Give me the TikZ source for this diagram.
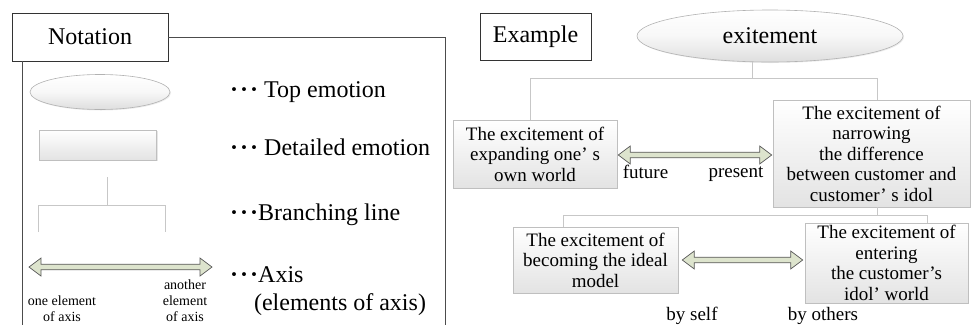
\documentclass[tikz,border=0pt]{standalone}
\usepackage{fontspec}
\setmainfont{Liberation Serif}
\usetikzlibrary{shadows,calc}
\newcommand\ddd{{\bfseries\char"00B7\relax\kern2pt\char"00B7\relax\kern2pt\char"00B7\relax}}
\newcommand\axisarrow[2]{%
  \filldraw[axisstyle] (#1) -- ($(#1)+(12,-9)$) -- ($(#1)+(12,-2.8)$) -- ($(#2)+(-12,-2.8)$)
   -- ($(#2)+(-12,-9)$) -- (#2) -- ($(#2)+(-12,9)$) -- ($(#2)+(-12,2.8)$)
   -- ($(#1)+(12,2.8)$) -- ($(#1)+(12,9)$) -- cycle;}
\tikzset{
  x=1pt,y=-1pt,
  big/.style={font=\fontsize{24}{26}\selectfont},
  mid/.style={font=\fontsize{19}{20.5}\selectfont},
  small/.style={font=\fontsize{14}{16}\selectfont, align=center},
  titlebox/.style={draw=black!80, fill=white, line width=0.8pt, inner sep=0pt, big},
  frame/.style={draw=black!70, line width=0.8pt},
  emobox/.style={draw=black!25, top color=white, bottom color=black!11, line width=0.6pt,
     drop shadow={shadow xshift=1.2pt, shadow yshift=-1.2pt, opacity=0.2},
     inner sep=1pt, align=center, mid},
  topell/.style={ellipse, draw=black!30, top color=white, bottom color=black!13,
     middle color=black!3, line width=0.6pt, inner sep=0pt,
     drop shadow={shadow xshift=1pt, shadow yshift=-1pt, opacity=0.15}},
  branch/.style={draw=black!22, line width=1pt},
  axisstyle/.style={draw=black!65, fill={rgb,255:red,221;green,228;blue,205}, line width=0.7pt, line join=miter},
  lbl/.style={anchor=west, big, inner sep=0pt},
}
\usetikzlibrary{shapes.geometric}
\begin{document}
\begin{tikzpicture}
\useasboundingbox (0,0) rectangle (971,325);
% ---------- Notation panel ----------
\node[titlebox, minimum width=156, minimum height=48] (nota) at (90,37) {Notation};
\coordinate (frTR) at (445,37);
\coordinate (frBR) at (445,325);
\coordinate (frBL) at (22,325);
\draw[frame] (nota.east |- frTR) -- (frTR) -- (frBR);
\draw[frame] (nota.south -| frBL) -- (frBL);

\node[topell, minimum width=140, minimum height=35] (ntop) at (100,92) {};
\node[emobox, minimum width=117, minimum height=30] (ndet) at (98,145) {};
\coordinate (bt) at (107,177);
\coordinate (bm) at (107,205);
\coordinate (bl) at (38,205);
\coordinate (br) at (165,205);
\coordinate (bld) at (38,232);
\coordinate (brd) at (165,232);
\draw[branch] (bt) -- (bm);
\draw[branch] (bld) -- (bl) -- (br) -- (brd);
\coordinate (axL) at (29,267);
\coordinate (axR) at (212,267);
\axisarrow{axL}{axR}
\node[small] (one) at (62,309) {one element\\of axis};
\node[small] (another) at (185,301) {another\\element\\of axis};

\node[lbl] (l1) at (230,92) {\ddd\ Top emotion};
\node[lbl] (l2) at (230,147) {\ddd\ Detailed emotion};
\node[lbl] (l3) at (230,215) {\ddd Branching line};
\node[lbl] (l4) at (230,275) {\ddd Axis};
\node[big, inner sep=0pt] (l5) at (340,305) {(elements of axis)};

% ---------- Example panel ----------
\node[titlebox, minimum width=111, minimum height=47] (ex) at (535.5,36.5) {Example};
\node[topell, minimum width=266, minimum height=52, big] (exc) at (770,36) {exitement};

\node[emobox, minimum width=164, minimum height=68] (A) at (535,154)
  {The excitement of\\expanding one’ s\\own world};
\node[emobox, minimum width=197, minimum height=107] (B) at (871.5,153.5)
  {The excitement of\\narrowing\\the difference\\between customer and\\customer’ s idol};
\node[emobox, minimum width=165, minimum height=66] (C) at (595.5,260)
  {The excitement of\\becoming the ideal\\model};
\node[emobox, minimum width=163, minimum height=80] (D) at (886.5,263)
  {The excitement of\\entering\\the customer’s\\idol’ world};

\coordinate (t1) at (752,78);
\coordinate (t1l) at (530,78);
\coordinate (t1r) at (877,78);
\draw[branch] (exc.south -| t1) -- (t1);
\draw[branch] (A.north -| t1l) -- (t1l) -- (t1r) -- (B.north -| t1r);
\coordinate (t2) at (877,215);
\coordinate (t2l) at (563,215);
\coordinate (t2r) at (927,215);
\draw[branch] (B.south -| t2) -- (t2);
\draw[branch] (C.north -| t2l) -- (t2l) -- (t2r) -- (D.north -| t2r);

\coordinate (abL) at ($(A.east |- 0,155)+(1,0)$);
\coordinate (abR) at ($(B.west |- 0,155)+(-1,0)$);
\axisarrow{abL}{abR}
\coordinate (cdL) at ($(C.east |- 0,260)+(4,0)$);
\coordinate (cdR) at ($(D.west |- 0,260)+(-2,0)$);
\axisarrow{cdL}{cdR}

\node[mid, anchor=base, inner sep=0pt] (fut) at (645.5,178) {future};
\node[mid, anchor=base, inner sep=0pt] (pre) at (736,177) {present};
\node[mid, anchor=base, inner sep=0pt] (self) at (692,320) {by self};
\node[mid, anchor=base, inner sep=0pt] (oth) at (823,320) {by others};
\end{tikzpicture}
\end{document}
